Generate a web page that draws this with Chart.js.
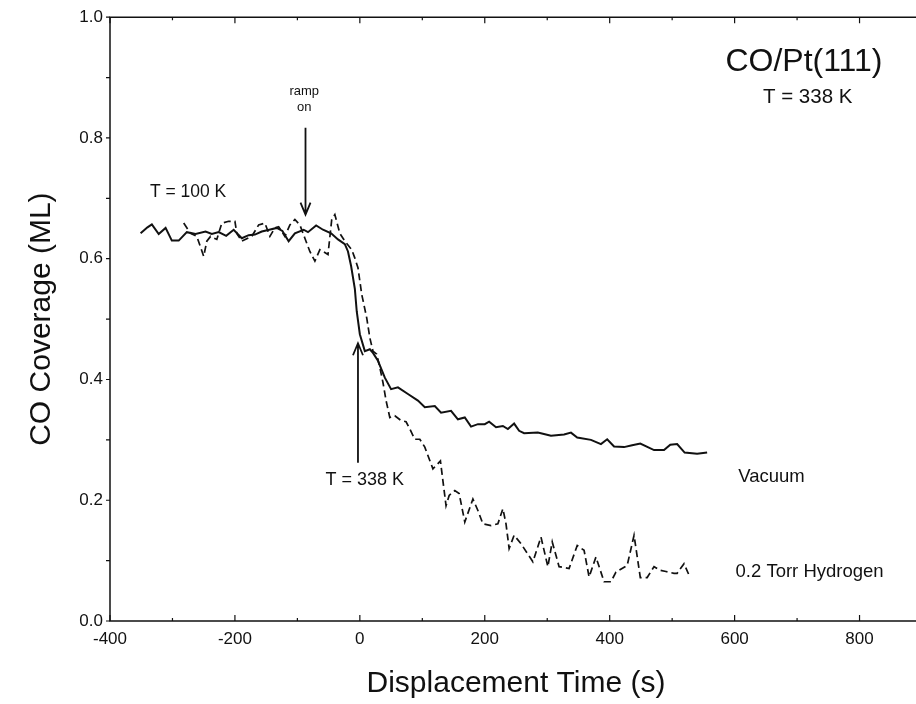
<!DOCTYPE html>
<html>
<head>
<meta charset="utf-8">
<script src="https://cdn.jsdelivr.net/npm/chart.js@4.4.0/dist/chart.umd.min.js"></script>
<style>
html,body{margin:0;padding:0;background:#fff;overflow:hidden;}
#wrap{width:930px;height:704px;}
</style>
</head>
<body>
<div id="wrap"><canvas id="c" width="930" height="704"></canvas></div>
<script>
// Vacuum series (solid)
const vacuumTime = [-351,-340,-333,-322,-311,-301,-290,-277,-263,-247,-237,-226,-214,-202,-189,-178,-168,-157,-145,-133,-124,-114,-104,-90,-83,-70,-59,-46,-35,-24,-19,-14,-8,-5,0,8,16,21,29,40,50,61,77,93,104,120,130,146,157,168,178,189,200,207,218,229,237,247,255,263,285,306,327,338,348,370,386,396,407,423,436,449,471,487,497,508,520,540,556];
const vacuumCoverage = [.642,.652,.657,.641,.651,.630,.630,.644,.641,.645,.641,.644,.638,.648,.634,.639,.640,.645,.648,.651,.646,.629,.642,.648,.644,.655,.648,.642,.632,.624,.612,.588,.550,.513,.475,.447,.450,.444,.431,.403,.384,.387,.376,.365,.354,.356,.345,.348,.334,.337,.322,.326,.326,.330,.321,.323,.318,.327,.315,.311,.312,.307,.309,.312,.304,.300,.293,.301,.289,.288,.291,.294,.283,.283,.292,.293,.279,.277,.279];
// 0.2 Torr Hydrogen series (dashed)
const hydrogenTime = [-282,-271,-261,-250,-245,-239,-229,-221,-210,-200,-197,-189,-173,-162,-152,-144,-136,-130,-120,-112,-104,-96,-88,-80,-72,-64,-59,-51,-45,-40,-32,-24,-13,-8,-3,3,11,16,21,27,32,37,42,48,56,66,74,80,88,96,104,117,129,138,143,152,159,168,181,189,197,210,221,229,234,239,247,258,277,290,301,308,319,335,348,359,367,378,391,402,410,428,439,449,460,471,481,490,503,508,519,527];
const hydrogenCoverage = [.659,.642,.637,.604,.629,.637,.632,.659,.662,.662,.642,.629,.637,.656,.659,.637,.651,.653,.637,.656,.665,.656,.634,.612,.596,.615,.612,.607,.665,.673,.642,.629,.615,.601,.585,.541,.502,.469,.447,.442,.420,.395,.365,.337,.340,.332,.330,.318,.301,.301,.288,.252,.265,.191,.208,.216,.211,.164,.202,.183,.161,.158,.161,.186,.161,.120,.142,.128,.098,.139,.090,.131,.090,.087,.125,.117,.073,.106,.065,.065,.081,.092,.142,.072,.072,.090,.084,.082,.079,.079,.095,.076];
// Axis tick labels
const xTickLabels = [-400,-200,0,200,400,600,800];
const yTickLabels = [0.0,0.2,0.4,0.6,0.8,1.0];

const FONT = '"Liberation Sans", Arial, Helvetica, sans-serif';
const INK = '#111';

const toPts = (xs, ys) => xs.map((x, i) => ({x: x, y: ys[i]}));

// annotations in data coordinates
const notes = [
  {text: 'T = 100 K', x: -275, y: 0.71, size: 17.5},
  {text: 'ramp', x: -89, y: 0.877, size: 13},
  {text: 'on', x: -89, y: 0.851, size: 13},
  {text: 'T = 338 K', x: 8, y: 0.233, size: 18},
  {text: 'Vacuum', x: 659, y: 0.239, size: 18.5},
  {text: '0.2 Torr Hydrogen', x: 720, y: 0.081, size: 18.5},
  {text: 'CO/Pt(111)', x: 711, y: 0.926, size: 32},
  {text: 'T = 338 K', x: 717, y: 0.868, size: 20.5}
];
const arrows = [
  {x: -87, y0: 0.817, y1: 0.673},
  {x: -3, y0: 0.262, y1: 0.460}
];

const framePlugin = {
  id: 'frame',
  afterDraw(chart) {
    const ctx = chart.ctx, a = chart.chartArea;
    const xs = chart.scales.x, ys = chart.scales.y;
    ctx.save();
    ctx.strokeStyle = INK;
    ctx.lineWidth = 1.5;
    ctx.beginPath();
    ctx.moveTo(a.right, a.top); ctx.lineTo(a.left, a.top);
    ctx.lineTo(a.left, a.bottom); ctx.lineTo(a.right, a.bottom);
    ctx.stroke();
    ctx.lineWidth = 1.2;
    ctx.beginPath();
    xs.ticks.forEach(t => {
      const p = xs.getPixelForValue(t.value);
      const major = Math.round(t.value) % 200 === 0;
      const L = major ? 6 : 3;
      ctx.moveTo(p, a.bottom); ctx.lineTo(p, a.bottom - L);
      ctx.moveTo(p, a.top); ctx.lineTo(p, a.top + L);
    });
    ys.ticks.forEach(t => {
      const p = ys.getPixelForValue(t.value);
      ctx.moveTo(a.left, p); ctx.lineTo(a.left - 4, p);
    });
    ctx.stroke();
    // annotation texts
    ctx.fillStyle = INK;
    ctx.textAlign = 'center';
    ctx.textBaseline = 'middle';
    notes.forEach(n => {
      ctx.font = n.size + 'px ' + FONT;
      ctx.fillText(n.text, xs.getPixelForValue(n.x), ys.getPixelForValue(n.y));
    });
    // arrows
    ctx.lineWidth = 1.8;
    arrows.forEach(ar => {
      const px = xs.getPixelForValue(ar.x);
      const p0 = ys.getPixelForValue(ar.y0), p1 = ys.getPixelForValue(ar.y1);
      const dir = p1 > p0 ? 1 : -1;
      ctx.beginPath();
      ctx.moveTo(px, p0); ctx.lineTo(px, p1);
      ctx.moveTo(px - 5, p1 - dir * 12); ctx.lineTo(px, p1); ctx.lineTo(px + 5, p1 - dir * 12);
      ctx.stroke();
    });
    ctx.restore();
  }
};

new Chart(document.getElementById('c'), {
  type: 'scatter',
  data: {
    datasets: [
      {label: 'Vacuum', data: toPts(vacuumTime, vacuumCoverage), showLine: true, borderColor: INK, borderWidth: 2, pointRadius: 0, tension: 0},
      {label: '0.2 Torr Hydrogen', data: toPts(hydrogenTime, hydrogenCoverage), showLine: true, borderColor: INK, borderWidth: 1.7, borderDash: [7, 4], pointRadius: 0, tension: 0}
    ]
  },
  options: {
    responsive: false,
    animation: false,
    events: [],
    layout: {padding: {left: 0, top: 15, right: 2, bottom: 0}},
    plugins: {legend: {display: false}, tooltip: {enabled: false}},
    scales: {
      x: {
        type: 'linear', min: -400, max: 900,
        grid: {display: false, drawTicks: false},
        border: {display: false},
        afterFit(s) { s.height = 83; },
        ticks: {
          stepSize: 100, padding: 8, color: INK, maxRotation: 0, autoSkip: false,
          font: {family: FONT, size: 17},
          callback: v => xTickLabels.includes(Math.round(v)) ? String(Math.round(v)) : ''
        },
        title: {display: true, text: 'Displacement Time (s)', color: INK, font: {family: FONT, size: 30}, padding: {top: 0, bottom: 2}}
      },
      y: {
        type: 'linear', min: 0, max: 1,
        grid: {display: false, drawTicks: false},
        border: {display: false},
        afterFit(s) { s.width = 110; },
        ticks: {
          stepSize: 0.1, padding: 7, color: INK, autoSkip: false,
          font: {family: FONT, size: 17},
          callback: v => {
            const r = Math.round(v * 10) / 10;
            return yTickLabels.some(t => Math.abs(t - r) < 1e-9) ? r.toFixed(1) : '';
          }
        },
        title: {display: true, text: 'CO Coverage (ML)', color: INK, font: {family: FONT, size: 30}, padding: {top: 24, bottom: 0}}
      }
    }
  },
  plugins: [framePlugin]
});
</script>
</body>
</html>
